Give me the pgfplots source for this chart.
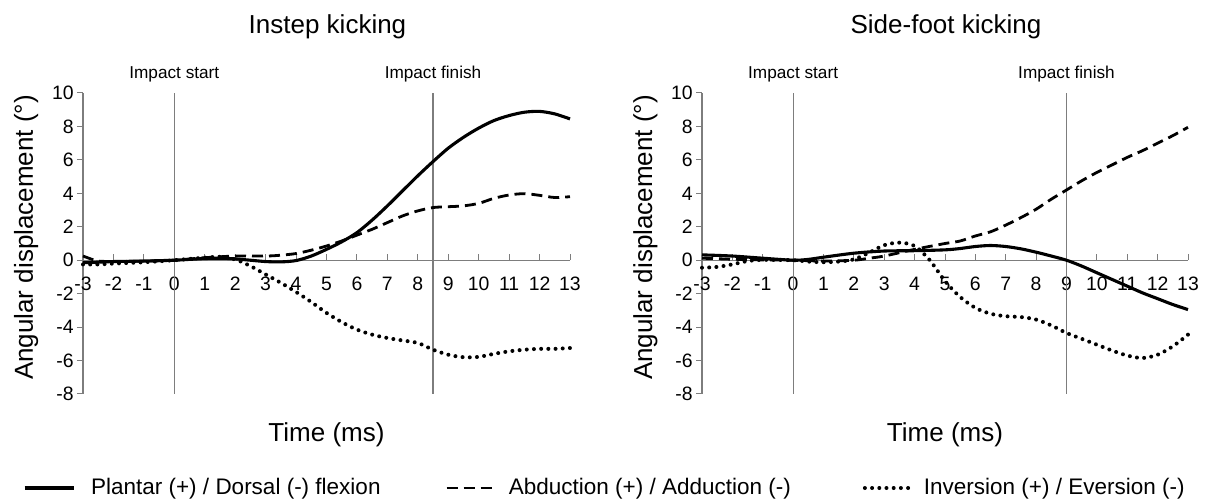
\documentclass[border=0pt]{standalone}
\usepackage{pgfplots}
\pgfplotsset{compat=1.18}
\usepackage{pgfplotstable}
\usepackage{fontspec}
\setmainfont{Liberation Sans}
\definecolor{axisgray}{RGB}{125,125,125}

\pgfplotstableread{
x y
-3 -0.15
-2.5 -0.12
-2 -0.08
-1 -0.05
0 0
0.5 0.05
1 0.1
1.5 0.12
2 0.08
2.5 0.0
3 -0.08
3.5 -0.1
4 -0.02
4.5 0.25
5 0.65
5.5 1.1
6 1.65
6.5 2.4
7 3.25
7.5 4.15
8 5.05
8.5 5.9
9 6.7
9.5 7.35
10 7.9
10.5 8.35
11 8.65
11.5 8.85
12 8.9
12.5 8.75
13 8.45
}\instepPlantar

\pgfplotstableread{
x y
-3 0.25
-2.7 0.05
-2.5 -0.05
-2 -0.08
-1 -0.05
0 0
1 0.15
2 0.25
3 0.25
3.5 0.3
4 0.4
4.5 0.6
5 0.85
5.5 1.15
6 1.5
6.5 1.85
7 2.25
7.5 2.65
8 2.95
8.5 3.15
9 3.2
9.5 3.25
10 3.4
10.5 3.7
11 3.9
11.5 3.98
12 3.88
12.5 3.75
13 3.8
}\instepAbd

\pgfplotstableread{
x y
-3 -0.25
-2.5 -0.25
-2 -0.2
-1 -0.12
0 0
0.5 0.08
1 0.15
1.5 0.2
2 0.05
2.5 -0.35
3 -0.85
3.5 -1.35
4 -1.9
4.5 -2.5
5 -3.15
5.5 -3.7
6 -4.15
6.5 -4.45
7 -4.65
7.5 -4.8
8 -4.95
8.5 -5.35
9 -5.65
9.5 -5.8
10 -5.78
10.5 -5.6
11 -5.45
11.5 -5.35
12 -5.3
12.5 -5.3
13 -5.25
}\instepInv

\pgfplotstableread{
x y
-3 0.32
-2 0.25
-1 0.12
0 0
0.5 0.05
1 0.18
2 0.42
3 0.55
4 0.57
5 0.62
5.5 0.7
6 0.82
6.5 0.88
7 0.82
7.5 0.68
8 0.48
8.5 0.25
9 0
9.5 -0.35
10 -0.75
10.5 -1.15
11 -1.55
11.5 -1.95
12 -2.3
12.5 -2.65
13 -2.95
}\sidePlantar

\pgfplotstableread{
x y
-3 0.12
-2 0.06
-1 0.02
0 0
1 -0.05
2 0.0
2.5 0.12
3 0.25
4 0.65
5 1.0
5.5 1.15
6 1.45
6.5 1.7
7 2.1
7.5 2.55
8 3.05
8.5 3.65
9 4.2
9.5 4.75
10 5.25
10.5 5.7
11 6.15
11.5 6.55
12 7.0
12.5 7.45
13 7.95
}\sideAbd

\pgfplotstableread{
x y
-3 -0.45
-2.5 -0.4
-2 -0.25
-1.5 -0.05
-1 0.02
0 0
0.5 -0.08
1 -0.12
1.5 -0.08
2 0.05
2.5 0.45
3 0.9
3.5 1.05
4 0.85
4.5 0.0
5 -1.25
5.5 -2.2
6 -2.85
6.5 -3.2
7 -3.35
7.5 -3.4
8 -3.55
8.5 -3.9
9 -4.35
9.5 -4.7
10 -5.05
10.5 -5.4
11 -5.7
11.5 -5.85
12 -5.65
12.5 -5.15
13 -4.45
}\sideInv

\pgfplotsset{
  myaxis/.style={
    scale only axis,
    width=243.5pt, height=150.5pt,
    xmin=-3, xmax=13, ymin=-8, ymax=10,
    enlargelimits=false,
    axis x line=middle, axis y line=left,
    axis line style={-, draw=axisgray, line width=0.6pt},
    xtick={-3,-2,...,13}, ytick={-8,-6,...,10},
    hide obscured x ticks=false, hide obscured y ticks=false,
    tick align=center, major tick length=3pt,
    every tick/.style={draw=axisgray, line width=0.5pt},
    xtick style={yshift=1.5pt},
    ytick style={xshift=-1.5pt},
    tick label style={font=\fontsize{9.7}{11}\selectfont},
    /pgf/number format/assume math mode=true,
    x tick label style={anchor=base, yshift=-13.5pt, inner sep=0pt},
    y tick label style={anchor=east, inner sep=0pt, xshift=-3pt},
    clip=false,
    xlabel={}, ylabel={},
  },
  solidstyle/.style={black, line width=1.55pt, smooth},
  dashstyle/.style={black, line width=1.4pt, dash pattern=on 5.5pt off 3pt, smooth},
  dotstyle/.style={black, line width=2pt, line cap=round, dash pattern=on 0pt off 3.6pt, smooth},
  vline/.style={draw=axisgray, line width=0.6pt, forget plot},
}

\begin{document}
\begin{tikzpicture}
\useasboundingbox (0,0) rectangle (603pt,251.5pt);

\begin{axis}[myaxis, at={(41.5pt,54.5pt)}, anchor=south west,
  legend columns=3,
  legend style={at={(-0.1232,-0.3123)}, anchor=west, draw=none, fill=none,
    inner sep=0pt, outer sep=0pt, column sep=0pt,
    font=\fontsize{11.25}{13}\selectfont,
    nodes={inner sep=0pt}},
  legend image code/.code={\draw[#1] (0pt,0pt) -- (24.5pt,0pt);},
]
\addplot[vline] coordinates {(0,-8) (0,10)};
\addplot[vline] coordinates {(8.5,-8) (8.5,10)};
\addplot[solidstyle] table[x=x,y=y] {\instepPlantar};
\addlegendentry{\makebox[185pt][l]{\hspace{8pt}Plantar (+) / Dorsal (-) flexion}}
\addplot[dashstyle] table[x=x,y=y] {\instepAbd};
\addlegendentry{\makebox[183pt][l]{\hspace{6pt}Abduction (+) / Adduction (-)}}
\addplot[dotstyle] table[x=x,y=y] {\instepInv};
\addlegendentry{\hspace{4pt}Inversion (+) / Eversion (-)}
\node[anchor=base, font=\fontsize{8.6}{10}\selectfont] at (axis cs:0,10.88) {Impact start};
\node[anchor=base, font=\fontsize{8.6}{10}\selectfont] at (axis cs:8.5,10.88) {Impact finish};
\node[anchor=base, font=\fontsize{13}{15}\selectfont] at (axis description cs:0.502,1.199) {Instep kicking};
\node[anchor=base, font=\fontsize{13}{15}\selectfont] at (axis description cs:0.5,-0.159) {Time (ms)};
\node[anchor=base, rotate=90, font=\fontsize{13}{15}\selectfont] at (axis description cs:-0.1027,0.52) {Angular displacement (°)};
\end{axis}

\begin{axis}[myaxis, at={(351pt,54.5pt)}, anchor=south west, width=243pt]
\addplot[vline] coordinates {(0,-8) (0,10)};
\addplot[vline] coordinates {(9,-8) (9,10)};
\addplot[solidstyle] table[x=x,y=y] {\sidePlantar};
\addplot[dashstyle] table[x=x,y=y] {\sideAbd};
\addplot[dotstyle] table[x=x,y=y] {\sideInv};
\node[anchor=base, font=\fontsize{8.6}{10}\selectfont] at (axis cs:0,10.88) {Impact start};
\node[anchor=base, font=\fontsize{8.6}{10}\selectfont] at (axis cs:9,10.88) {Impact finish};
\node[anchor=base, font=\fontsize{13}{15}\selectfont] at (axis description cs:0.502,1.199) {Side-foot kicking};
\node[anchor=base, font=\fontsize{13}{15}\selectfont] at (axis description cs:0.5,-0.159) {Time (ms)};
\node[anchor=base, rotate=90, font=\fontsize{13}{15}\selectfont] at (axis description cs:-0.1027,0.52) {Angular displacement (°)};
\end{axis}
\end{tikzpicture}
\end{document}
